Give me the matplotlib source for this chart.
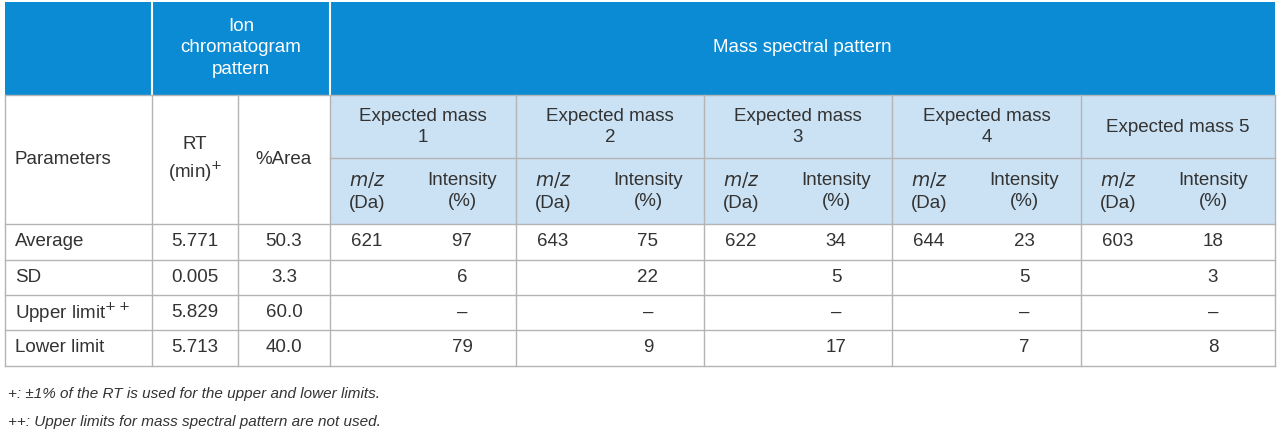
import matplotlib
matplotlib.use("Agg")
import matplotlib.pyplot as plt
from matplotlib.patches import Rectangle

row_labels = ["Average", "SD", "Upper limit$^{++}$", "Lower limit"]
rt_values = ["5.771", "0.005", "5.829", "5.713"]
area_values = ["50.3", "3.3", "60.0", "40.0"]
mass_names = ["Expected mass\n1", "Expected mass\n2", "Expected mass\n3", "Expected mass\n4", "Expected mass 5"]
mz_values = [["621", "", "", ""], ["643", "", "", ""], ["622", "", "", ""], ["644", "", "", ""], ["603", "", "", ""]]
intensity_values = [["97", "6", "–", "79"], ["75", "22", "–", "9"], ["34", "5", "–", "17"],
                    ["23", "5", "–", "7"], ["18", "3", "–", "8"]]
footnotes = ["+: ±1% of the RT is used for the upper and lower limits.",
             "++: Upper limits for mass spectral pattern are not used."]

BLUE = "#0a8bd3"
LIGHT = "#cbe2f4"
GRID = "#b4b4b4"
TXT = "#333333"
FS = 13.5
FONT = "Liberation Sans"
plt.rcParams["font.family"] = FONT

fig = plt.figure(figsize=(12.8, 4.41), dpi=100)
ax = fig.add_axes([0, 0, 1, 1])
ax.set_xlim(0, 1280)
ax.set_ylim(441, 0)
ax.axis("off")

cols = [5, 152, 238, 330, 516, 704, 892, 1081, 1275]
rows_y = [2, 95, 158, 224, 260, 295, 330, 366]

def rect(x0, y0, x1, y1, fc):
    ax.add_patch(Rectangle((x0, y0), x1 - x0, y1 - y0, facecolor=fc, edgecolor="none"))

def txt(x, y, s, color=TXT, ha="center", **kw):
    ax.text(x, y, s, color=color, ha=ha, va="center", fontsize=FS, linespacing=1.35, **kw)

# header 1
rect(cols[0], rows_y[0], cols[-1], rows_y[1], BLUE)
txt((cols[1] + cols[3]) / 2, 48, "Ion\nchromatogram\npattern", color="white")
txt((cols[3] + cols[-1]) / 2, 48, "Mass spectral pattern", color="white")
for x in [cols[1], cols[3]]:
    ax.plot([x, x], [rows_y[0], rows_y[1]], color="white", lw=1.5)

# header 2/3
rect(cols[3], rows_y[1], cols[-1], rows_y[3], LIGHT)
txt(cols[0] + 10, 160, "Parameters", ha="left")
txt((cols[1] + cols[2]) / 2, 160, "RT\n(min)$^{+}$")
txt((cols[2] + cols[3]) / 2, 160, "%Area")
for i, name in enumerate(mass_names):
    x0, x1 = cols[3 + i], cols[4 + i]
    txt((x0 + x1) / 2, 127, name)
    txt(x0 + 37, 191, "$m/z$\n(Da)")
    txt(x0 + 132, 191, "Intensity\n(%)")

# data rows
for r in range(4):
    yc = (rows_y[3 + r] + rows_y[4 + r]) / 2
    txt(cols[0] + 10, yc, row_labels[r], ha="left")
    txt((cols[1] + cols[2]) / 2, yc, rt_values[r])
    txt((cols[2] + cols[3]) / 2, yc, area_values[r])
    for i in range(5):
        x0 = cols[3 + i]
        txt(x0 + 37, yc, mz_values[i][r])
        txt(x0 + 132, yc, intensity_values[i][r])

# grid lines
for y in rows_y[2:]:
    x_start = cols[3] if y == rows_y[2] else cols[0]
    ax.plot([x_start, cols[-1]], [y, y], color=GRID, lw=1)
ax.plot([cols[0], cols[-1]], [rows_y[1], rows_y[1]], color=GRID, lw=1)
for j, x in enumerate(cols):
    ax.plot([x, x], [rows_y[1], rows_y[-1]], color=GRID, lw=1)

ax.text(8, 394, footnotes[0], fontsize=11, style="italic", color=TXT, va="center")
ax.text(8, 422, footnotes[1], fontsize=11, style="italic", color=TXT, va="center")

fig.savefig("out.png", dpi=100)
